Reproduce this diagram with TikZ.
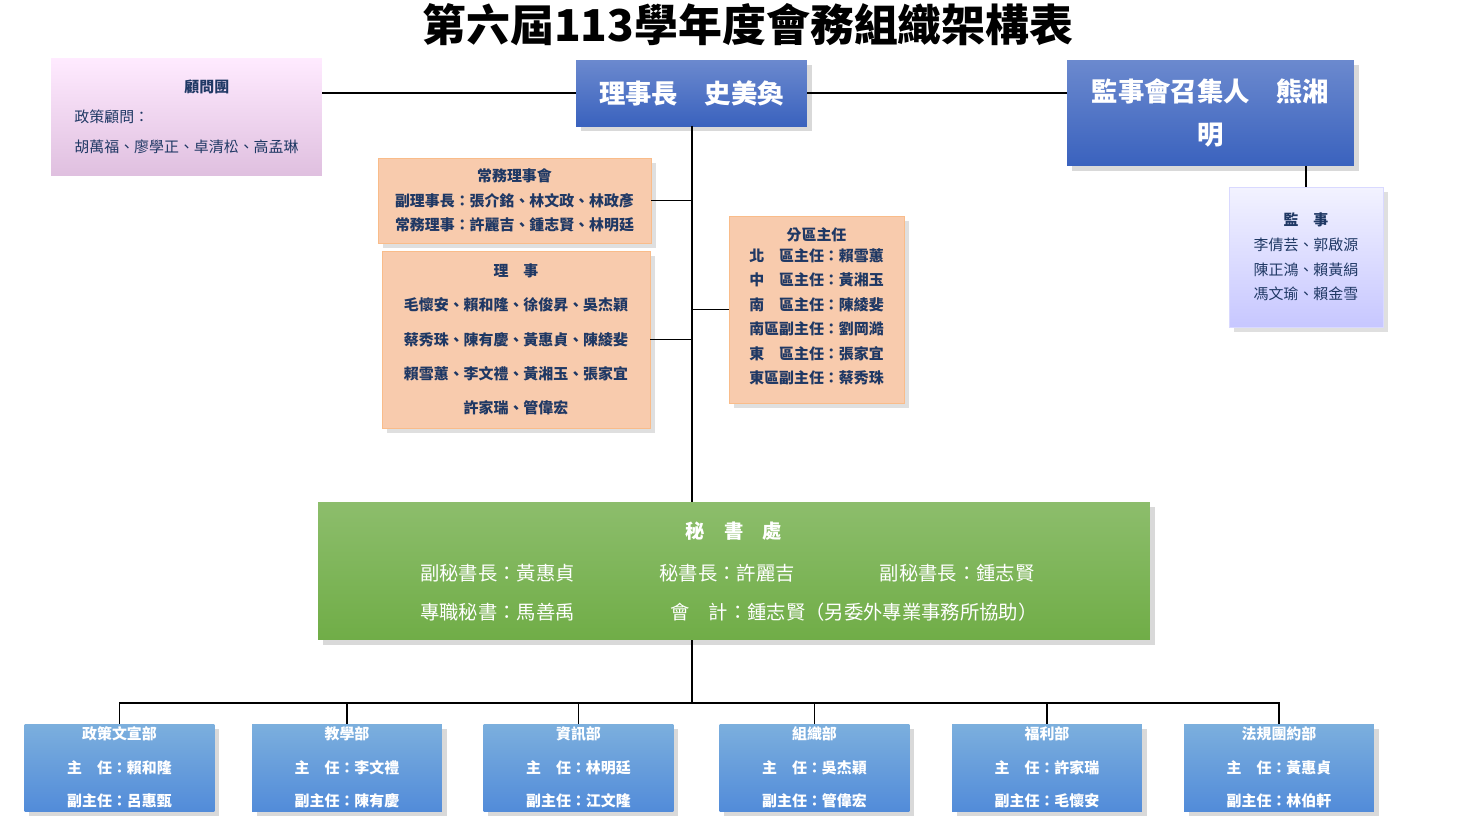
\documentclass[tikz,border=0pt]{standalone}
\usepackage{fontspec}
\setmainfont{Noto Sans CJK TC}
\usetikzlibrary{positioning,shadows}
\definecolor{leadblue}{HTML}{3A62BE}
\definecolor{deptblue}{HTML}{5B9BD5}
\definecolor{peach}{HTML}{F8CBAD}
\definecolor{secgreen}{HTML}{70AD47}
\definecolor{inkblue}{HTML}{1F3864}

\begin{document}
\begin{tikzpicture}[x=0.02cm, y=-0.02cm]
    \tikzstyle{leader} = [rectangle, top color=leadblue!75, bottom color=leadblue, text=white, font=\bfseries\fontsize{15}{24}\selectfont, align=center, inner sep=0pt, drop shadow={opacity=0.3}]
    \tikzstyle{peachbox} = [rectangle, fill=peach, draw=peach!80!orange, text=inkblue, font=\fontsize{8.5}{14}\selectfont, align=center, inner sep=0pt, drop shadow={opacity=0.25}]
    \tikzstyle{dept} = [rectangle, top color=deptblue!80, bottom color=deptblue!90!blue, text=white, font=\bfseries\fontsize{8.5}{19}\selectfont, align=center, inner sep=0pt, minimum width=3.8cm, minimum height=1.74cm, drop shadow={opacity=0.3}]
    \tikzstyle{link} = [black, line width=0.8pt]

    \useasboundingbox (0,0) rectangle (1458,816);

    % Title
    \node (title) at (748,25) {\bfseries\fontsize{25}{30}\selectfont 第六屆113學年度會務組織架構表};

    % Top row
    \node[rectangle, top color=magenta!8, bottom color=violet!25, text=inkblue, font=\fontsize{8.5}{17}\selectfont, align=left, minimum width=5.42cm, minimum height=2.36cm, inner sep=0pt] (advisor) at (186.5,117) {\hspace*{2.2cm}\bfseries 顧問團\\政策顧問：\\胡萬福、廖學正、卓清松、高孟琳};
    \node[leader, minimum width=4.62cm, minimum height=1.32cm] (chair) at (691.5,93) {理事長\quad 史美奐};
    \node[leader, minimum width=5.74cm, minimum height=2.12cm, text width=5.3cm] (convener) at (1210.5,113) {監事會召集人\quad 熊湘\\明};
    \node[rectangle, top color=blue!5, bottom color=blue!22, draw=blue!15, text=inkblue, font=\fontsize{8.5}{14}\selectfont, align=center, minimum width=3.08cm, minimum height=2.8cm, inner sep=0pt, drop shadow={opacity=0.25}] (supervisor) at (1306,257) {{\bfseries 監\quad 事}\\李倩芸、郭啟源\\陳正鴻、賴黃絹\\馮文瑜、賴金雪};

    % Council boxes
    \node[peachbox, minimum width=5.46cm, minimum height=1.7cm] (standing) at (514.5,200.5) {\bfseries 常務理事會\\\bfseries 副理事長：張介銘、林文政、林政彥\\\bfseries 常務理事：許麗吉、鍾志賢、林明廷};
    \node[peachbox, minimum width=5.36cm, minimum height=3.54cm, font=\bfseries\fontsize{8.5}{19.5}\selectfont] (council) at (516,339.5) {理\quad 事\\毛懷安、賴和隆、徐俊昇、吳杰穎\\蔡秀珠、陳有慶、黃惠貞、陳綾斐\\賴雪蕙、李文禮、黃湘玉、張家宜\\許家瑞、管偉宏};
    \node[peachbox, minimum width=3.5cm, minimum height=3.74cm, font=\bfseries\fontsize{8.5}{14}\selectfont] (district) at (816.5,309.5) {分區主任\\
        \begin{tabular}{@{}l@{}}北\quad 區主任：賴雪蕙\\中\quad 區主任：黃湘玉\\南\quad 區主任：陳綾斐\\南區副主任：劉岡澔\\東\quad 區主任：張家宜\\東區副主任：蔡秀珠\end{tabular}};

    % Secretariat
    \node[rectangle, top color=secgreen!80, bottom color=secgreen, text=white, font=\fontsize{11}{22}\selectfont, minimum width=16.64cm, minimum height=2.76cm, inner sep=0pt, drop shadow={opacity=0.3}] (office) at (734,571) {%
        \begin{tabular}{@{}l@{\hspace{1.7cm}}l@{\hspace{1.7cm}}l@{}}
        \multicolumn{3}{c}{\bfseries 秘\quad 書\quad 處}\\[2pt]
        副秘書長：黃惠貞 & 秘書長：許麗吉 & 副秘書長：鍾志賢\\
        專職秘書：馬善禹 & \multicolumn{2}{l}{會\quad 計：鍾志賢（另委外專業事務所協助）}
        \end{tabular}};

    % Departments
    \node[dept] (d1) at (119.5,767.5) {政策文宣部\\主\quad 任：賴和隆\\副主任：呂惠甄};
    \node[dept] (d2) at (347,767.5) {教學部\\主\quad 任：李文禮\\副主任：陳有慶};
    \node[dept] (d3) at (578.5,767.5) {資訊部\\主\quad 任：林明廷\\副主任：江文隆};
    \node[dept] (d4) at (814.5,767.5) {組織部\\主\quad 任：吳杰穎\\副主任：管偉宏};
    \node[dept] (d5) at (1047,767.5) {福利部\\主\quad 任：許家瑞\\副主任：毛懷安};
    \node[dept] (d6) at (1279,767.5) {法規團約部\\主\quad 任：黃惠貞\\副主任：林伯軒};

    % Connectors
    \coordinate (spine) at (692,703);
    \draw[link] (advisor.east |- chair.west) -- (chair.west);
    \draw[link] (chair.east) -- (convener.west |- chair.east);
    \draw[link] (chair.south -| spine) -- (office.north -| spine);
    \draw[link] (standing.east) -- (standing.east -| spine);
    \draw[link] (council.east) -- (council.east -| spine);
    \draw[link] (district.west) -- (district.west -| spine);
    \draw[link] (convener.south -| supervisor.north) -- (supervisor.north);
    \draw[link] (office.south -| spine) -- (spine);
    \draw[link] (d1.north) -- (d1.north |- spine) -- (d6.north |- spine) -- (d6.north);
    \foreach \d in {d2,d3,d4,d5} {
        \draw[link] (\d.north |- spine) -- (\d.north);
    }
\end{tikzpicture}
\end{document}
